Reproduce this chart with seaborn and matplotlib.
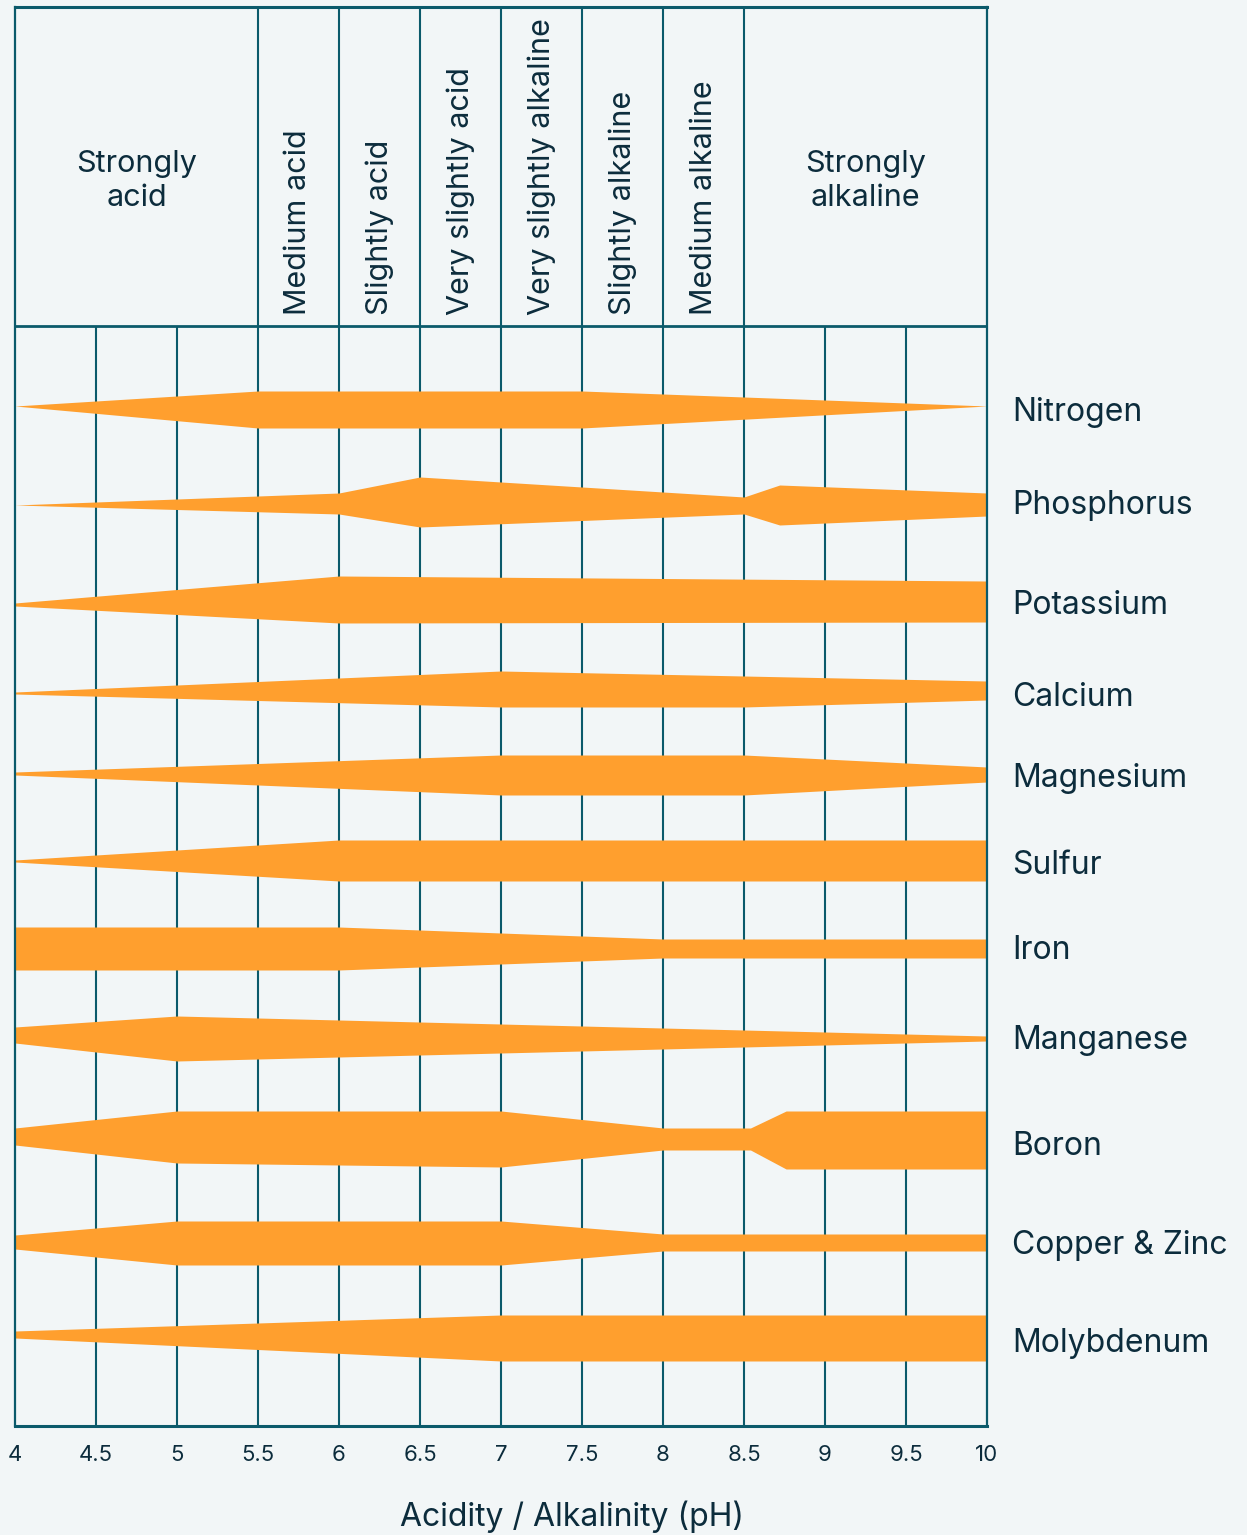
"""
nutrient availability vs soil pH, band chart
"""
import matplotlib.pyplot as plt
import numpy as np
import seaborn as sns

# ---- data -----------------------------------------------------------------
ph_ticks = [4, 4.5, 5, 5.5, 6, 6.5, 7, 7.5, 8, 8.5, 9, 9.5, 10]
tick_labels = ["4", "4.5", "5", "5.5", "6", "6.5", "7", "7.5", "8", "8.5", "9", "9.5", "10"]

# header classes between consecutive edges
class_edges = [4, 5.5, 6, 6.5, 7, 7.5, 8, 8.5, 10]
class_names = ["Strongly\nacid", "Medium acid", "Slightly acid", "Very slightly acid",
               "Very slightly alkaline", "Slightly alkaline", "Medium alkaline",
               "Strongly\nalkaline"]

nutrients = ["Nitrogen", "Phosphorus", "Potassium", "Calcium", "Magnesium", "Sulfur",
             "Iron", "Manganese", "Boron", "Copper & Zinc", "Molybdenum"]

# band edges relative to the row centre (screen units, down = positive)
nitrogen = dict(ph=[4, 5.5, 7.5, 10], top=[-4, -19, -19, -4], bottom=[-4, 18, 18, -4])
phosphorus = dict(ph=[4, 6, 6.5, 8.5, 8.72, 10], top=[3, -9, -25, -5, -17, -9],
                  bottom=[3, 12, 25, 12, 23, 14])
potassium = dict(ph=[4, 6, 10], top=[4, -23, -18], bottom=[7, 24, 23])
calcium = dict(ph=[4, 7, 8.5, 10], top=[3, -18, -13, -8], bottom=[5, 18, 18, 11])
magnesium = dict(ph=[4, 7, 8.5, 10], top=[-3, -20, -20, -8], bottom=[0, 20, 20, 7])
sulfur = dict(ph=[4, 6, 10], top=[-1, -21, -21], bottom=[1, 20, 20])
iron = dict(ph=[4, 6, 8, 10], top=[-21, -21, -9, -9], bottom=[22, 22, 10, 10])
manganese = dict(ph=[4, 5, 10], top=[-11, -22, -2], bottom=[5, 23, 3])
boron = dict(ph=[4, 5, 7, 8, 8.54, 8.76, 10], top=[-11, -28, -28, -11, -11, -28, -28],
             bottom=[6, 24, 28, 11, 11, 30, 30])
copper_zinc = dict(ph=[4, 5, 7, 8, 10], top=[-8, -22, -22, -9, -9], bottom=[6, 22, 22, 8, 8])
molybdenum = dict(ph=[4, 7, 10], top=[-7, -23, -23], bottom=[0, 23, 23])

bands = [nitrogen, phosphorus, potassium, calcium, magnesium, sulfur, iron, manganese,
         boron, copper_zinc, molybdenum]

# ---- layout / style -------------------------------------------------------
row_y = [410, 502, 599, 689, 775, 861, 948, 1038, 1139, 1243, 1338]
label_y = [410, 503, 603, 695, 776, 863, 948, 1038, 1144, 1243, 1341]
Y_TOP, Y_HEAD, Y_BOT = 7, 326, 1426

BG = "#f2f6f7"
LINE = "#0b5a6b"
TEXT = "#0c2c3c"
ORANGE = "#ff9f2e"

sns.set_theme(style="white")
plt.rcParams["font.family"] = ["Inter", "DejaVu Sans"]

W, H = 1247, 1535
fig = plt.figure(figsize=(W / 100, H / 100), dpi=100, facecolor=BG)
ax = fig.add_axes([15 / W, (H - Y_BOT) / H, (987 - 15) / W, (Y_BOT - Y_TOP) / H])
ax.set_facecolor(BG)
ax.set_xlim(4, 10)
ax.set_ylim(Y_BOT, Y_TOP)

# grid lines: all half steps below the header, only class edges inside it
for x in ph_ticks[1:-1]:
    ax.plot([x, x], [Y_HEAD, Y_BOT], color=LINE, lw=1.5, zorder=1, solid_capstyle="butt")
for x in class_edges[1:-1]:
    ax.plot([x, x], [Y_TOP, Y_HEAD], color=LINE, lw=1.5, zorder=1, solid_capstyle="butt")
ax.axhline(Y_HEAD, color=LINE, lw=2)
for side in ["left", "right", "top", "bottom"]:
    ax.spines[side].set_color(LINE)
    ax.spines[side].set_linewidth(1.6)
ax.spines["bottom"].set_linewidth(2.2)
ax.spines["top"].set_linewidth(2.2)

# nutrient bands
for band, yc in zip(bands, row_y):
    ph = np.array(band["ph"])
    top = yc + np.array(band["top"])
    bot = yc + np.array(band["bottom"])
    ax.fill_between(ph, top, bot, color=ORANGE, lw=0, zorder=2)

for name, yl in zip(nutrients, label_y):
    ax.text(10.155, yl + 11.5, name, fontsize=23, color=TEXT, va="baseline", ha="left",
            clip_on=False)

# header labels
for lo, hi, label in zip(class_edges[:-1], class_edges[1:], class_names):
    xc = (lo + hi) / 2
    if "\n" in label:
        ax.text(xc, 181, label, fontsize=22, color=TEXT, ha="center", va="center",
                linespacing=1.25)
    else:
        ax.text(xc, 315, label, fontsize=22, color=TEXT, ha="center", va="bottom",
                rotation=90)

ax.set_xticks(ph_ticks)
ax.set_xticklabels(tick_labels, fontsize=16, color=TEXT)
ax.set_yticks([])
ax.tick_params(axis="x", length=0, pad=14)
ax.set_xlabel("Acidity / Alkalinity (pH)", fontsize=23, color=TEXT)
ax.xaxis.set_label_coords((572 - 15) / 972, -(1526 - Y_BOT) / (Y_BOT - Y_TOP))
ax.xaxis.label.set_va("baseline")

fig.savefig("out.png", dpi=100, facecolor=BG)
